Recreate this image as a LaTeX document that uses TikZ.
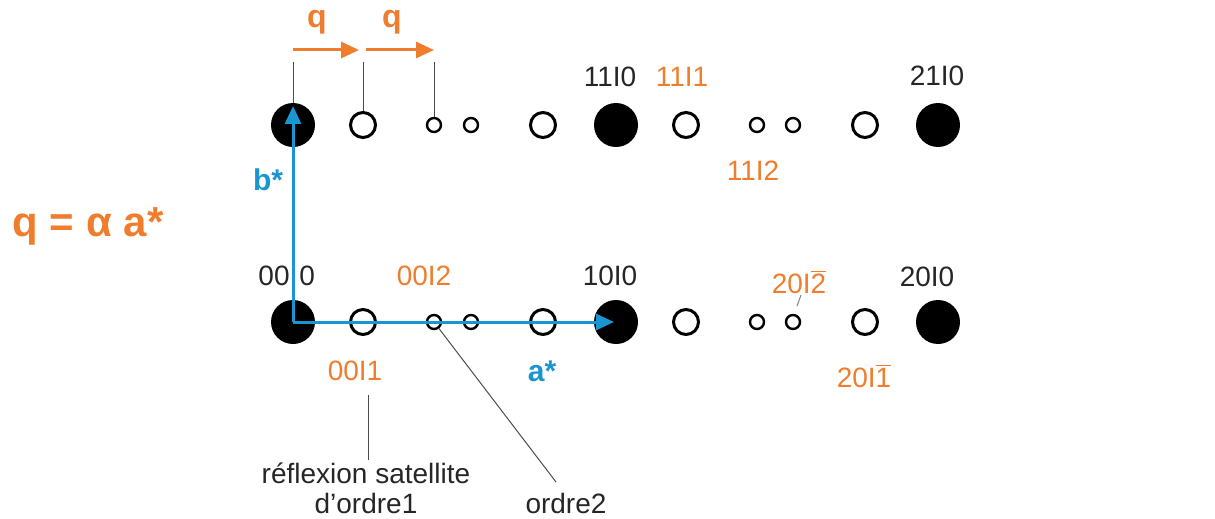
\documentclass[tikz,border=0pt]{standalone}
\usepackage{fontspec}
\setmainfont{Liberation Sans}
\usetikzlibrary{arrows.meta}
\definecolor{qorange}{RGB}{240,125,45}
\definecolor{axblue}{RGB}{25,150,210}
\newcommand{\obar}[1]{$\overline{\mbox{#1}}$}
\tikzset{
  bigdot/.style={circle,fill=black,inner sep=0pt,minimum size=22pt},
  midring/.style={circle,draw=black,line width=1.5pt,fill=white,inner sep=0pt,minimum size=12.5pt},
  smallring/.style={circle,draw=black,line width=1.2pt,fill=white,inner sep=0pt,minimum size=7pt},
  blk/.style={font=\fontsize{14}{16}\selectfont,text=black!85,inner sep=0pt},
  org/.style={font=\fontsize{14}{16}\selectfont,text=qorange,inner sep=0pt},
  leader/.style={draw=black!70,line width=0.5pt},
  qarrow/.style={draw=qorange,line width=1.5pt,-{Triangle[length=9pt,width=8pt]}},
  axarrow/.style={draw=axblue,line width=1.5pt,-{Triangle[length=9pt,width=8pt]}},
}
\begin{document}
\begin{tikzpicture}[x=0.5pt,y=-0.5pt]
\useasboundingbox (0,0) rectangle (1215,519);
% top row
\node[bigdot] (t1) at (293,125) {};
\node[midring] (t2) at (363,125) {};
\node[smallring] (t3) at (434,125) {};
\node[smallring] (t4) at (471,125) {};
\node[midring] (t5) at (543,125) {};
\node[bigdot] (t6) at (616,125) {};
\node[midring] (t7) at (686,125) {};
\node[smallring] (t8) at (757,125) {};
\node[smallring] (t9) at (793,125) {};
\node[midring] (t10) at (865,125) {};
\node[bigdot] (t11) at (938,125) {};
% bottom row
\node[bigdot] (b1) at (293,322) {};
\node[midring] (b2) at (363,322) {};
\node[smallring] (b3) at (434,322) {};
\node[smallring] (b4) at (471,322) {};
\node[midring] (b5) at (543,322) {};
\node[bigdot] (b6) at (616,322) {};
\node[midring] (b7) at (686,322) {};
\node[smallring] (b8) at (757,322) {};
\node[smallring] (b9) at (793,322) {};
\node[midring] (b10) at (865,322) {};
\node[bigdot] (b11) at (938,322) {};
% tick lines to top
\coordinate (k1) at (293,62);
\coordinate (k2) at (363,62);
\coordinate (k3) at (434,62);
\draw[leader] (k1) -- (t1.north);
\draw[leader] (k2) -- (t2.north);
\draw[leader] (k3) -- (t3.north);
% q arrows
\coordinate (qa1) at (293,50);
\coordinate (qa2) at (359,50);
\coordinate (qa3) at (366,50);
\coordinate (qa4) at (434,50);
\draw[qarrow] (qa1) -- (qa2);
\draw[qarrow] (qa3) -- (qa4);
\node[font=\fontsize{16}{18}\bfseries\selectfont,text=qorange,inner sep=0pt] (q1) at (317,22) {q};
\node[font=\fontsize{16}{18}\bfseries\selectfont,text=qorange,inner sep=0pt] (q2) at (392,22) {q};
% axes
\coordinate (ax0) at (293,322);
\coordinate (bstar) at (293,106);
\coordinate (astar) at (614,322);
\draw[axarrow] (ax0) -- (bstar);
\draw[axarrow] (ax0) -- (astar);
\node[font=\fontsize{15}{17}\bfseries\selectfont,text=axblue,inner sep=0pt] (bl) at (268,180) {b*};
\node[font=\fontsize{15}{17}\bfseries\selectfont,text=axblue,inner sep=0pt] (al) at (542,371) {a*};
% formula
\node[font=\fontsize{21}{24}\bfseries\selectfont,text=qorange,inner sep=0pt] (eq) at (88,226) {q = α a*};
% labels top
\node[blk] (l110) at (610,77) {11I0};
\node[org] (l111) at (682,77) {11I1};
\node[blk] (l210) at (937,76) {21I0};
\node[org] (l112) at (753,171) {11I2};
% labels bottom
\node[blk,anchor=east] (l000a) at (290,276) {00};
\node[blk,anchor=west] (l000b) at (299,276) {0};
\node[org] (l002) at (424,276) {00I2};
\node[blk] (l100) at (610,276) {10I0};
\node[org] (l202) at (799,282) {20I\obar{2}};
\node[blk] (l200) at (927,277) {20I0};
\node[org] (l001) at (355,371) {00I1};
\node[org] (l201) at (864,376) {20I\obar{1}};
% leaders
\coordinate (r1) at (368,395);
\coordinate (r2) at (368,460);
\draw[leader] (r1) -- (r2);
\node[blk,align=center,font=\fontsize{14}{15}\selectfont] (refl) at (366,488) {réflexion satellite\\d’ordre1};
\coordinate (o2) at (556,482);
\draw[leader] (b3) -- (o2);
\node[blk] (ord2) at (566,503) {ordre2};
\coordinate (s1) at (797,306);
\coordinate (s2) at (801,295);
\draw[leader,draw=black!50] (s1) -- (s2);
\end{tikzpicture}
\end{document}
